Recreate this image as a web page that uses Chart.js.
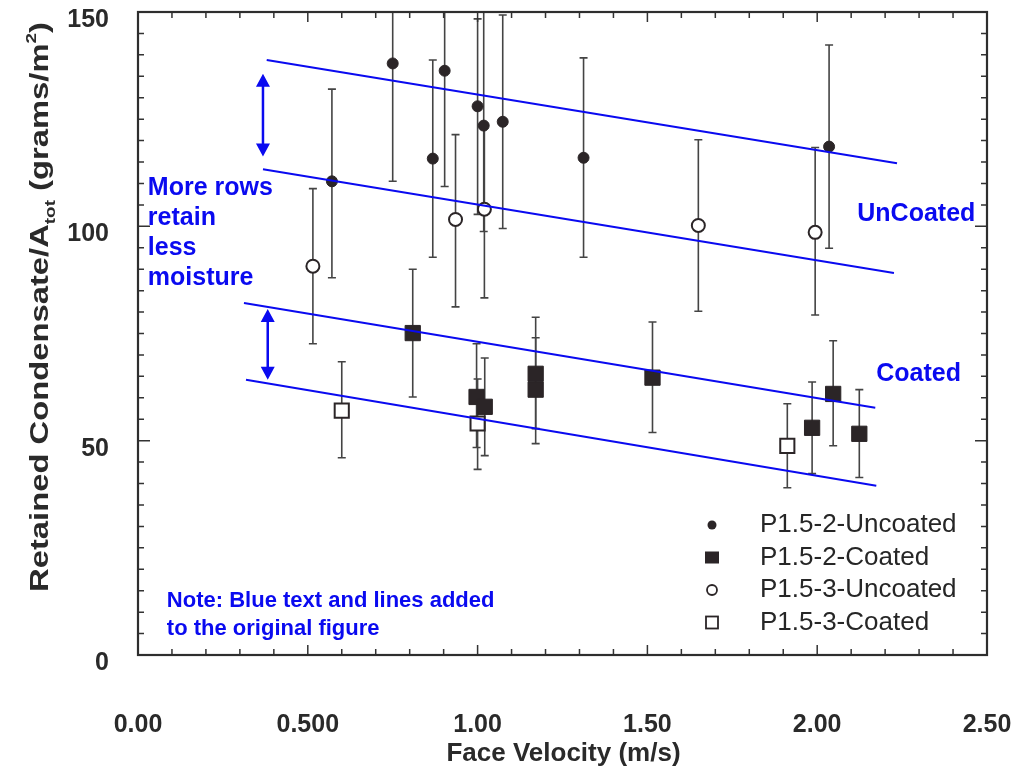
<!DOCTYPE html>
<html>
<head>
<meta charset="utf-8">
<script src="https://cdn.jsdelivr.net/npm/chart.js@4.4.1/dist/chart.umd.min.js"></script>
<style>
  body { margin: 0; background: #fff; }
  #wrap { width: 1018px; height: 767px; }
</style>
</head>
<body>
<div id="wrap"><canvas id="chart"></canvas></div>
<script>
// values
const seriesNames = ['P1.5-2-Uncoated', 'P1.5-2-Coated', 'P1.5-3-Uncoated', 'P1.5-3-Coated'];

const unc2X  = [0.571, 0.75, 0.868, 0.903, 1.0, 1.018, 1.074, 1.312, 2.035];
const unc2Y  = [110.5, 138, 115.8, 136.3, 128, 123.5, 124.4, 116, 118.6];
const unc2Lo = [88, 110.5, 92.8, 109.3, 102.8, 98.8, 99.5, 92.8, 94.9];
const unc2Hi = [132, 158, 138.8, 158, 148.4, 158, 149.3, 139.3, 142.3];

const coat2X  = [0.809, 0.997, 1.021, 1.171, 1.171, 1.515, 1.985, 2.047, 2.124];
const coat2Y  = [75.1, 60.2, 57.9, 65.6, 61.9, 64.7, 53, 60.9, 51.6];
const coat2Lo = [60.2, 48.4, 46.5, 52.8, 49.3, 51.9, 42.3, 48.8, 41.4];
const coat2Hi = [90, 72.6, 69.3, 78.8, 74, 77.7, 63.7, 73.3, 61.9];

const unc3X  = [0.515, 0.935, 1.02, 1.65, 1.994];
const unc3Y  = [90.7, 101.6, 104, 100.2, 98.6];
const unc3Lo = [72.6, 81.2, 83.3, 80.2, 79.3];
const unc3Hi = [108.8, 121.4, 124, 120.2, 118.4];

const coat3X  = [0.6, 1.0, 1.912];
const coat3Y  = [57, 54, 48.8];
const coat3Lo = [46, 43.3, 39];
const coat3Hi = [68.4, 64.4, 58.6];

// blue guide lines added on top of the original figure: [x0, y0, x1, y1]
const uncoatedUpper = [0.379, 138.8, 2.235, 114.7];
const uncoatedLower = [0.368, 113.3, 2.226, 89.1];
const coatedUpper   = [0.312, 82.1, 2.171, 57.7];
const coatedLower   = [0.318, 64.2, 2.174, 39.5];

// double arrows: [x, yFrom, yTo]
const arrowUncoated = [0.368, 135.6, 116.3];
const arrowCoated   = [0.382, 80.7, 64.2];

const xTickLabels = ['0.00', '0.500', '1.00', '1.50', '2.00', '2.50'];

const blue = '#0a0af0';
const ink = '#2b2527';

function points(xs, ys) {
  return xs.map((x, i) => ({ x: x, y: ys[i] }));
}
function segment(s) {
  return [{ x: s[0], y: s[1] }, { x: s[2], y: s[3] }];
}
function guideLine(s) {
  return {
    data: segment(s), showLine: true, borderColor: blue, borderWidth: 2,
    pointRadius: 0, pointHoverRadius: 0, fill: false, order: 0
  };
}

// error bars are drawn under the markers
const errorBars = {
  id: 'errorBars',
  beforeDatasetsDraw(chart) {
    const { ctx, chartArea: a, scales: { x, y } } = chart;
    ctx.save();
    ctx.beginPath();
    ctx.rect(a.left, a.top, a.width, a.height);
    ctx.clip();
    ctx.strokeStyle = '#444';
    ctx.lineWidth = 1.6;
    chart.data.datasets.forEach(ds => {
      if (!ds.lo) return;
      ds.data.forEach((p, i) => {
        const px = x.getPixelForValue(p.x);
        const top = y.getPixelForValue(ds.hi[i]);
        const bot = y.getPixelForValue(ds.lo[i]);
        ctx.beginPath();
        ctx.moveTo(px, top); ctx.lineTo(px, bot);
        ctx.moveTo(px - 4, top); ctx.lineTo(px + 4, top);
        ctx.moveTo(px - 4, bot); ctx.lineTo(px + 4, bot);
        ctx.stroke();
      });
    });
    ctx.restore();
  }
};

// inward ticks on all four sides plus the frame
const frameTicks = {
  id: 'frameTicks',
  afterDraw(chart) {
    const { ctx, chartArea: a, scales: { x, y } } = chart;
    ctx.save();
    ctx.strokeStyle = '#333';
    ctx.lineWidth = 1.5;
    ctx.beginPath();
    for (let i = 0; i <= 25; i++) {
      const px = x.getPixelForValue(i / 10);
      const len = i % 5 === 0 ? 10 : 6;
      ctx.moveTo(px, a.bottom); ctx.lineTo(px, a.bottom - len);
      ctx.moveTo(px, a.top); ctx.lineTo(px, a.top + len);
    }
    for (let i = 0; i <= 30; i++) {
      const py = y.getPixelForValue(i * 5);
      const len = i % 10 === 0 ? 12 : 6;
      ctx.moveTo(a.left, py); ctx.lineTo(a.left + len, py);
      ctx.moveTo(a.right, py); ctx.lineTo(a.right - len, py);
    }
    ctx.stroke();
    ctx.lineWidth = 2.2;
    ctx.strokeStyle = '#2e2e2e';
    ctx.strokeRect(a.left, a.top, a.width, a.height);
    ctx.restore();
  }
};

function drawArrow(ctx, px, y0, y1) {
  const head = 13, half = 7;
  ctx.beginPath();
  ctx.moveTo(px, y0 + head - 2); ctx.lineTo(px, y1 - head + 2);
  ctx.stroke();
  ctx.beginPath();
  ctx.moveTo(px, y0); ctx.lineTo(px - half, y0 + head); ctx.lineTo(px + half, y0 + head);
  ctx.closePath();
  ctx.moveTo(px, y1); ctx.lineTo(px - half, y1 - head); ctx.lineTo(px + half, y1 - head);
  ctx.closePath();
  ctx.fill();
}

// blue notes, arrows, legend and axis titles
const annotations = {
  id: 'annotations',
  afterDraw(chart) {
    const { ctx, chartArea: a, scales: { x, y } } = chart;
    ctx.save();
    ctx.fillStyle = blue;
    ctx.strokeStyle = blue;
    ctx.lineWidth = 2.5;
    [arrowUncoated, arrowCoated].forEach(ar => {
      drawArrow(ctx, x.getPixelForValue(ar[0]), y.getPixelForValue(ar[1]), y.getPixelForValue(ar[2]));
    });

    ctx.textBaseline = 'alphabetic';
    ctx.textAlign = 'left';
    ctx.font = 'bold 25px "Liberation Sans", Arial, sans-serif';
    const left = x.getPixelForValue(0.029);
    ['More rows', 'retain', 'less', 'moisture'].forEach((t, i) => {
      ctx.fillText(t, left, y.getPixelForValue(107.4) + i * 30);
    });
    ctx.fillText('UnCoated', x.getPixelForValue(2.118), y.getPixelForValue(101.2));
    ctx.fillText('Coated', x.getPixelForValue(2.174), y.getPixelForValue(64));
    ctx.font = 'bold 22px "Liberation Sans", Arial, sans-serif';
    ctx.fillText('Note: Blue text and lines added', x.getPixelForValue(0.085), y.getPixelForValue(11.2));
    ctx.fillText('to the original figure', x.getPixelForValue(0.085), y.getPixelForValue(11.2) + 28);

    // legend
    const mx = a.right - 275, tx = a.right - 227, y0 = a.bottom - 130, step = 32.5;
    ctx.font = '26px "Liberation Sans", Arial, sans-serif';
    ctx.textBaseline = 'middle';
    seriesNames.forEach((name, i) => {
      const ly = y0 + i * step;
      ctx.fillStyle = '#262626';
      ctx.fillText(name, tx, ly);
      ctx.fillStyle = ink;
      ctx.strokeStyle = ink;
      ctx.lineWidth = 1.8;
      if (i === 0) {
        ctx.beginPath(); ctx.arc(mx, ly, 4.5, 0, Math.PI * 2); ctx.fill();
      } else if (i === 1) {
        ctx.fillRect(mx - 7, ly - 6, 14, 12);
      } else if (i === 2) {
        ctx.beginPath(); ctx.arc(mx, ly, 5, 0, Math.PI * 2); ctx.stroke();
      } else {
        ctx.strokeRect(mx - 6, ly - 6, 12, 12);
      }
    });

    // y axis title with subscript and superscript
    ctx.fillStyle = '#2a2a2a';
    ctx.textBaseline = 'alphabetic';
    const big = 'bold 26px "Liberation Sans", Arial, sans-serif';
    const small = 'bold 15px "Liberation Sans", Arial, sans-serif';
    const parts = [
      ['Retained Condensate/A', big, 0],
      ['tot', small, 7],
      [' (grams/m', big, 0],
      ['2', small, -12],
      [')', big, 0]
    ];
    let total = 0;
    parts.forEach(p => { ctx.font = p[1]; total += ctx.measureText(p[0]).width; });
    const target = 570;
    ctx.translate(48, 307);
    ctx.rotate(-Math.PI / 2);
    ctx.scale(target / total, 1);
    let cx = -total / 2;
    parts.forEach(p => {
      ctx.font = p[1];
      ctx.fillText(p[0], cx, p[2]);
      cx += ctx.measureText(p[0]).width;
    });
    ctx.restore();

    ctx.save();
    ctx.fillStyle = '#2a2a2a';
    ctx.font = 'bold 26px "Liberation Sans", Arial, sans-serif';
    ctx.textAlign = 'center';
    ctx.textBaseline = 'alphabetic';
    ctx.fillText('Face Velocity (m/s)', (a.left + a.right) / 2 + 1, 761);
    ctx.restore();
  }
};

new Chart(document.getElementById('chart'), {
  type: 'scatter',
  data: {
    datasets: [
      {
        label: seriesNames[0], data: points(unc2X, unc2Y), lo: unc2Lo, hi: unc2Hi,
        pointStyle: 'circle', pointRadius: 5.5, backgroundColor: ink, borderColor: ink, borderWidth: 1, order: 1
      },
      {
        label: seriesNames[1], data: points(coat2X, coat2Y), lo: coat2Lo, hi: coat2Hi,
        pointStyle: 'rect', pointRadius: 10.8, backgroundColor: ink, borderColor: ink, borderWidth: 1, order: 1
      },
      {
        label: seriesNames[2], data: points(unc3X, unc3Y), lo: unc3Lo, hi: unc3Hi,
        pointStyle: 'circle', pointRadius: 6.5, backgroundColor: '#fff', borderColor: ink, borderWidth: 2, order: 1
      },
      {
        label: seriesNames[3], data: points(coat3X, coat3Y), lo: coat3Lo, hi: coat3Hi,
        pointStyle: 'rect', pointRadius: 10, backgroundColor: '#fff', borderColor: ink, borderWidth: 2, order: 1
      },
      guideLine(uncoatedUpper),
      guideLine(uncoatedLower),
      guideLine(coatedUpper),
      guideLine(coatedLower)
    ]
  },
  options: {
    responsive: true,
    maintainAspectRatio: false,
    animation: false,
    layout: { padding: { top: 10, right: 31, left: 0, bottom: 0 } },
    plugins: {
      legend: { display: false },
      tooltip: { enabled: false }
    },
    scales: {
      x: {
        type: 'linear', min: 0, max: 2.5,
        grid: { display: false },
        border: { display: false },
        ticks: {
          stepSize: 0.5, padding: 47, color: '#2a2a2a',
          font: { family: '"Liberation Sans", Arial, sans-serif', size: 25, weight: 'bold' },
          callback: (v) => xTickLabels[Math.round(v * 2)]
        },
        afterFit: (s) => { s.height = 112; s.paddingLeft = 0; s.paddingRight = 0; }
      },
      y: {
        type: 'linear', min: 0, max: 150,
        grid: { display: false },
        border: { display: false },
        ticks: {
          stepSize: 50, padding: 21, labelOffset: 8, color: '#2a2a2a',
          font: { family: '"Liberation Sans", Arial, sans-serif', size: 25, weight: 'bold' }
        },
        afterFit: (s) => { s.width = 138; s.paddingTop = 0; s.paddingBottom = 0; }
      }
    }
  },
  plugins: [errorBars, frameTicks, annotations]
});
</script>
</body>
</html>
